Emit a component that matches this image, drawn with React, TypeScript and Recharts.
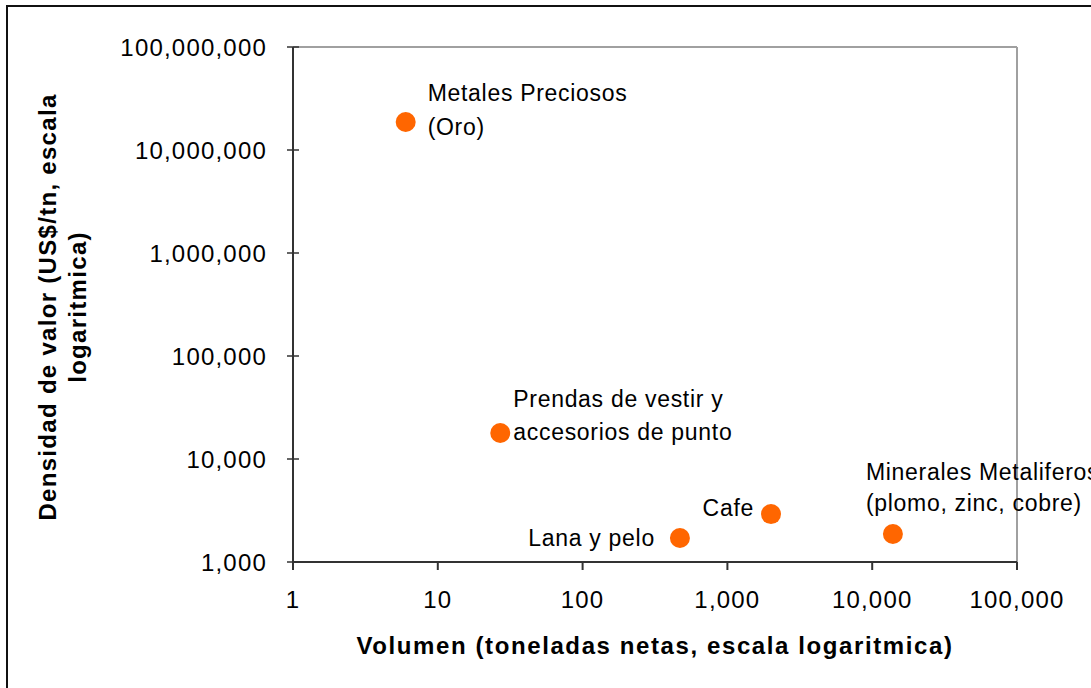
import { ScatterChart, Scatter, XAxis, YAxis, ReferenceLine } from 'recharts';

// Productos exportados: volumen (tn netas) vs densidad de valor (US$/tn)
const productos = [
  'Metales Preciosos (Oro)',
  'Prendas de vestir y accesorios de punto',
  'Lana y pelo',
  'Cafe',
  'Minerales Metaliferos (plomo, zinc, cobre)',
];
const volumen = [6, 27, 470, 2000, 13900];
const densidad = [18700000, 17900, 1710, 2920, 1870];
const etiquetas = [
  ['Metales Preciosos', '(Oro)'],
  ['Prendas de vestir y', 'accesorios de punto'],
  ['Lana y pelo'],
  ['Cafe'],
  ['Minerales Metaliferos', '(plomo, zinc, cobre)'],
];

const xTicks = [1, 10, 100, 1000, 10000, 100000];
const yTicks = [1000, 10000, 100000, 1000000, 10000000, 100000000];

const FONT = '"Liberation Sans", Arial, sans-serif';
const ORANGE = '#FF6600';
const AXIS = '#333333';

// where each label sits relative to its dot
const labelPos: Record<string, { dx: number; dy: number; gap: number; anchor: 'start' | 'end' }> = {
  'Metales Preciosos (Oro)': { dx: 22, dy: -29, gap: 34, anchor: 'start' },
  'Prendas de vestir y accesorios de punto': { dx: 13, dy: -34, gap: 33, anchor: 'start' },
  'Lana y pelo': { dx: -25, dy: 0, gap: 0, anchor: 'end' },
  'Cafe': { dx: -17, dy: -6, gap: 0, anchor: 'end' },
  'Minerales Metaliferos (plomo, zinc, cobre)': { dx: -27, dy: -62, gap: 31, anchor: 'start' },
};

const data = productos.map((p, i) => ({
  producto: p,
  volumen: volumen[i],
  densidad: densidad[i],
  lineas: etiquetas[i],
}));

const fmt = (v: number) => v.toLocaleString('en-US');

const Y_TICK_SIZE = 6;
const Y_TICK_MARGIN = 20;

function YTick(props: any) {
  const { x, y, payload } = props;
  const axisX = x + Y_TICK_SIZE + Y_TICK_MARGIN;
  return (
    <g>
      <line x1={axisX - 6} x2={axisX + 6} y1={y} y2={y} stroke={AXIS} strokeWidth={1.5} />
      <text
        x={x}
        y={y}
        textAnchor="end"
        dominantBaseline="central"
        fontFamily={FONT}
        fontSize={24}
        letterSpacing={1.2}
        fill="#000"
      >
        {fmt(payload.value)}
      </text>
    </g>
  );
}

function Punto(props: any) {
  const { cx, cy, payload } = props;
  const pos = labelPos[payload.producto];
  return (
    <g>
      <circle cx={cx} cy={cy} r={10} fill={ORANGE} />
      {payload.lineas.map((linea: string, i: number) => (
        <text
          key={i}
          x={cx + pos.dx}
          y={cy + pos.dy + i * pos.gap}
          textAnchor={pos.anchor}
          dominantBaseline="central"
          fontFamily={FONT}
          fontSize={23}
          letterSpacing={0.7}
          fill="#000"
        >
          {linea}
        </text>
      ))}
    </g>
  );
}

const XTitle = () => (
  <text
    x={655}
    y={645}
    textAnchor="middle"
    dominantBaseline="central"
    fontFamily={FONT}
    fontSize={24}
    fontWeight="bold"
    letterSpacing={1.6}
    fill="#000"
  >
    Volumen (toneladas netas, escala logaritmica)
  </text>
);

const YTitle = () => (
  <g transform="rotate(-90, 62, 307)">
    <text
      x={62}
      y={292}
      textAnchor="middle"
      dominantBaseline="central"
      fontFamily={FONT}
      fontSize={24}
      fontWeight="bold"
      letterSpacing={1.3}
      fill="#000"
    >
      Densidad de valor (US$/tn, escala
    </text>
    <text
      x={62}
      y={322}
      textAnchor="middle"
      dominantBaseline="central"
      fontFamily={FONT}
      fontSize={24}
      fontWeight="bold"
      letterSpacing={1.3}
      fill="#000"
    >
      logaritmica)
    </text>
  </g>
);

export default function App() {
  return (
    <div style={{ position: 'absolute', left: 0, top: 0, width: 1091, height: 688, background: '#fff', overflow: 'hidden' }}>
      <div
        style={{
          position: 'absolute',
          left: 6,
          top: 5,
          width: 1200,
          height: 800,
          border: '2px solid #111',
          boxSizing: 'border-box',
        }}
      />
      <div style={{ position: 'absolute', left: 0, top: 0 }}>
        <ScatterChart
          width={1091}
          height={688}
          margin={{ top: 47, right: 74, bottom: 66, left: 93 }}
        >
          <ReferenceLine y={100000000} stroke="#a0a0a0" strokeWidth={2} />
          <ReferenceLine x={100000} stroke="#a0a0a0" strokeWidth={2} />
          <XAxis
            type="number"
            dataKey="volumen"
            scale="log"
            domain={[1, 100000]}
            ticks={xTicks}
            height={60}
            tickFormatter={fmt}
            tickSize={8}
            tickMargin={21}
            stroke={AXIS}
            strokeWidth={2}
            tick={{ fill: '#000', fontSize: 24, fontFamily: FONT, letterSpacing: 1.2 }}
            label={{ content: XTitle }}
          />
          <YAxis
            type="number"
            dataKey="densidad"
            scale="log"
            domain={[1000, 100000000]}
            ticks={yTicks}
            width={200}
            tickSize={Y_TICK_SIZE}
            tickMargin={Y_TICK_MARGIN}
            tickLine={false}
            stroke={AXIS}
            strokeWidth={2}
            tick={YTick}
            label={{ content: YTitle }}
          />
          <Scatter data={data} shape={Punto} isAnimationActive={false} />
        </ScatterChart>
      </div>
    </div>
  );
}
